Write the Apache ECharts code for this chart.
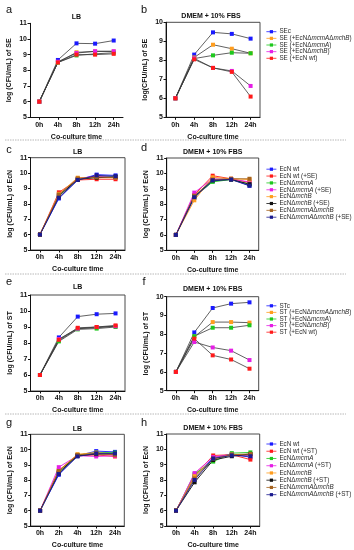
<!DOCTYPE html>
<html><head><meta charset="utf-8">
<script src="https://cdn.jsdelivr.net/npm/echarts@6/dist/echarts.min.js"></script>
<style>html,body{margin:0;padding:0;background:#fff}#c{width:354px;height:550px}</style>
</head><body><div id="c"></div>
<script>
// ---------- categories ----------
const timeCats = ['0h','4h','8h','12h','24h'];
const timeCatsG = ['0h','2h','4h','12h','24h'];

// ---------- legend names ----------
const seNames = ['SEc','SE (+EcNΔmcmAΔmchB)','SE (+EcNΔmcmA)','SE (+EcNΔmchB)','SE (+EcN wt)'];
const stNames = ['STc','ST (+EcNΔmcmAΔmchB)','ST (+EcNΔmcmA)','ST (+EcNΔmchB)','ST (+EcN wt)'];
const ecnSENames = ['EcN wt','EcN wt (+SE)','EcNΔmcmA','EcNΔmcmA (+SE)','EcNΔmchB','EcNΔmchB (+SE)','EcNΔmcmAΔmchB','EcNΔmcmAΔmchB (+SE)'];
const ecnSTNames = ['EcN wt','EcN wt (+ST)','EcNΔmcmA','EcNΔmcmA (+ST)','EcNΔmchB','EcNΔmchB (+ST)','EcNΔmcmAΔmchB','EcNΔmcmAΔmchB (+ST)'];

// ---------- panel a: LB, SE ----------
const aSEc   = [6, 8.66, 9.72, 9.70, 9.90];
const aDblKO = [6, 8.50, 9.15, 9.20, 9.20];
const aMcmA  = [6, 8.50, 8.95, 9.05, 9.12];
const aMchB  = [6, 8.55, 9.10, 9.22, 9.22];
const aWt    = [6, 8.50, 9.00, 9.00, 9.05];

// ---------- panel b: DMEM, SE ----------
const bSEc   = [6, 8.30, 9.47, 9.39, 9.14];
const bDblKO = [6, 8.15, 8.82, 8.61, 8.37];
const bMcmA  = [6, 8.09, 8.26, 8.40, 8.37];
const bMchB  = [6, 8.10, 7.60, 7.44, 6.65];
const bWt    = [6, 8.05, 7.60, 7.39, 6.09];

// ---------- panel c: LB, EcN (+SE) ----------
const cWt      = [6, 8.35, 9.55, 9.90, 9.85];
const cWtSE    = [6, 8.75, 9.55, 9.60, 9.60];
const cMcmA    = [6, 8.55, 9.60, 9.75, 9.75];
const cMcmASE  = [6, 8.60, 9.65, 9.80, 9.70];
const cMchB    = [6, 8.65, 9.70, 9.70, 9.70];
const cMchBSE  = [6, 8.50, 9.60, 9.70, 9.75];
const cDbl     = [6, 8.60, 9.65, 9.75, 9.70];
const cDblSE   = [6, 8.40, 9.55, 9.85, 9.80];

// ---------- panel d: DMEM, EcN (+SE) ----------
const dWt      = [6, 8.40, 9.50, 9.62, 9.20];
const dWtSE    = [6, 8.60, 9.85, 9.65, 9.40];
const dMcmA    = [6, 8.50, 9.45, 9.60, 9.30];
const dMcmASE  = [6, 8.75, 9.65, 9.62, 9.45];
const dMchB    = [6, 8.25, 9.75, 9.65, 9.60];
const dMchBSE  = [6, 8.50, 9.55, 9.60, 9.30];
const dDbl     = [6, 8.55, 9.60, 9.65, 9.65];
const dDblSE   = [6, 8.45, 9.55, 9.60, 9.20];

// ---------- panel e: LB, ST ----------
const eSTc   = [6, 8.35, 9.65, 9.80, 9.85];
const eDblKO = [6, 8.15, 8.90, 8.95, 9.05];
const eMcmA  = [6, 8.10, 8.85, 8.90, 9.00];
const eMchB  = [6, 8.25, 8.90, 9.00, 9.05];
const eWt    = [6, 8.20, 8.95, 9.00, 9.10];

// ---------- panel f: DMEM, ST ----------
const fSTc   = [6, 8.10, 9.40, 9.63, 9.70];
const fDblKO = [6, 7.87, 8.65, 8.65, 8.62];
const fMcmA  = [6, 7.90, 8.35, 8.35, 8.48];
const fMchB  = [6, 7.59, 7.30, 7.13, 6.63];
const fWt    = [6, 7.77, 6.88, 6.66, 6.17];

// ---------- panel g: LB, EcN (+ST) ----------
const gWt      = [6, 8.35, 9.60, 9.90, 9.85];
const gWtST    = [6, 8.65, 9.60, 9.65, 9.55];
const gMcmA    = [6, 8.50, 9.65, 9.80, 9.80];
const gMcmAST  = [6, 8.85, 9.60, 9.55, 9.60];
const gMchB    = [6, 8.60, 9.70, 9.80, 9.70];
const gMchBST  = [6, 8.50, 9.60, 9.70, 9.70];
const gDbl     = [6, 8.60, 9.65, 9.75, 9.65];
const gDblST   = [6, 8.40, 9.55, 9.75, 9.75];

// ---------- panel h: DMEM, EcN (+ST) ----------
const hWt      = [6, 8.20, 9.45, 9.70, 9.48];
const hWtST    = [6, 8.30, 9.60, 9.65, 9.33];
const hMcmA    = [6, 8.40, 9.20, 9.75, 9.80];
const hMcmAST  = [6, 8.45, 9.50, 9.65, 9.60];
const hMchB    = [6, 8.25, 9.35, 9.65, 9.65];
const hMchBST  = [6, 7.85, 9.30, 9.55, 9.70];
const hDbl     = [6, 8.10, 9.40, 9.65, 9.70];
const hDblST   = [6, 8.00, 9.40, 9.60, 9.55];

// ---------- colours ----------
const C = {blue:'#1a1aff', orange:'#ff9d1e', green:'#1ec81e', magenta:'#e51ee5', red:'#ff1a1a', black:'#111111', brown:'#a5631f', navy:'#1b1b8f'};
const pathColors = [C.blue, C.orange, C.green, C.magenta, C.red];
const ecnColors = [C.blue, C.red, C.green, C.magenta, C.orange, C.black, C.brown, C.navy];

const FONT = '"Liberation Sans", Arial, sans-serif';

// grid geometry: [left, top, width, height]
const grids = [
  [30, 23.3, 93, 94],
  [166, 22.3, 94, 95],
  [30.5, 157.7, 94.5, 92.3],
  [166.7, 158, 92, 92.3],
  [30.5, 295, 94.5, 96],
  [166.7, 296.7, 92, 94],
  [30.7, 434.3, 93.6, 94],
  [166.7, 434, 93, 93.5]
];
const yMax = [11, 10, 11, 11, 11, 10, 11, 11];
const yNames = ['log (CFU/mL) of SE','log(CFU/mL) of SE','log (CFU/mL) of EcN','log (CFU/mL) of EcN',
                'log (CFU/mL) of ST','log (CFU/mL) of ST','log (CFU/mL) of EcN','log (CFU/mL) of EcN'];
const xCats = [timeCats, timeCats, timeCats, timeCats, timeCats, timeCats, timeCatsG, timeCats];

const grid = grids.map((g, i) => ({left:g[0], top:g[1], width:g[2], height:g[3], show: i !== 0,
  borderColor:'#4a4a4a', borderWidth:1, containLabel:false}));

const xAxis = grids.map((g, i) => ({
  type:'category', gridIndex:i, data:xCats[i], boundaryGap:true,
  axisLine:{show:true, lineStyle:{color:'#111', width:1}},
  axisTick:{show:true, alignWithLabel:true, length:2.5, lineStyle:{color:'#111'}},
  axisLabel:{fontSize:7, fontWeight:'bold', color:'#111', margin:4, fontFamily:FONT, interval:0},
  name:'Co-culture time', nameLocation:'middle', nameGap:16,
  nameTextStyle:{fontSize:7, fontWeight:'bold', color:'#111', fontFamily:FONT}
}));
const yAxis = grids.map((g, i) => ({
  type:'value', gridIndex:i, min:5, max:yMax[i], interval:1,
  axisLine:{show:true, lineStyle:{color:'#111', width:1}},
  axisTick:{show:true, length:2.5, lineStyle:{color:'#111'}},
  splitLine:{show:false},
  axisLabel:{fontSize:7, fontWeight:'bold', color:'#111', margin:3, fontFamily:FONT},
  name:yNames[i], nameLocation:'middle', nameGap:17, nameRotate:90,
  nameTextStyle:{fontSize:7, fontWeight:'bold', color:'#111', fontFamily:FONT}
}));

function mk(name, data, color, idx, dark) {
  return {type:'line', name, data, xAxisIndex:idx, yAxisIndex:idx,
    symbol:'rect', symbolSize:4, itemStyle:{color},
    lineStyle:{color: dark ? '#3a3a3a' : color, width: dark ? 0.8 : 0.9},
    emphasis:{disabled:true}, animation:false, z: dark ? 2 : 3};
}
const series = [];
[aSEc,aDblKO,aMcmA,aMchB,aWt].forEach((d,k)=>series.push(mk(seNames[k], d, pathColors[k], 0, true)));
[bSEc,bDblKO,bMcmA,bMchB,bWt].forEach((d,k)=>series.push(mk(seNames[k], d, pathColors[k], 1, true)));
[cWt,cWtSE,cMcmA,cMcmASE,cMchB,cMchBSE,cDbl,cDblSE].forEach((d,k)=>series.push(mk(ecnSENames[k], d, ecnColors[k], 2, false)));
[dWt,dWtSE,dMcmA,dMcmASE,dMchB,dMchBSE,dDbl,dDblSE].forEach((d,k)=>series.push(mk(ecnSENames[k], d, ecnColors[k], 3, false)));
[eSTc,eDblKO,eMcmA,eMchB,eWt].forEach((d,k)=>series.push(mk(stNames[k], d, pathColors[k], 4, true)));
[fSTc,fDblKO,fMcmA,fMchB,fWt].forEach((d,k)=>series.push(mk(stNames[k], d, pathColors[k], 5, true)));
[gWt,gWtST,gMcmA,gMcmAST,gMchB,gMchBST,gDbl,gDblST].forEach((d,k)=>series.push(mk(ecnSTNames[k], d, ecnColors[k], 6, false)));
[hWt,hWtST,hMcmA,hMcmAST,hMchB,hMchBST,hDbl,hDblST].forEach((d,k)=>series.push(mk(ecnSTNames[k], d, ecnColors[k], 7, false)));

function legendFor(names, colors, top, gap) {
  return {orient:'vertical', left:261, top, itemWidth:10, itemHeight:4, itemGap:gap,
    selectedMode:false,
    data: names.map((n,k)=>({name:n, itemStyle:{color:colors[k]}, lineStyle:{color:colors[k], width:0.8}})),
    formatter: n => n.replace(/mcmA/g,'{i|mcmA}').replace(/mchB/g,'{i|mchB}'),
    textStyle:{fontSize:6.3, color:'#2a2a2a', fontFamily:FONT, lineHeight:6.6, padding:[0,0,0,-2],
      rich:{i:{fontStyle:'italic', fontSize:6.3, color:'#2a2a2a', fontFamily:FONT, lineHeight:6.6}}}
  };
}
const legend = [
  legendFor(seNames, pathColors, 23.4, 0.05),
  legendFor(ecnSENames, ecnColors, 160.9, 0.26),
  legendFor(stNames, pathColors, 297.5, 0),
  legendFor(ecnSTNames, ecnColors, 435.7, 0.64)
];

function txt(text, x, y, size, weight) {
  return {type:'text', x, y, style:{text, fontSize:size, fontWeight:weight, fontFamily:FONT, fill:'#111',
    align:'center', verticalAlign:'middle'}, silent:true};
}
function sep(y) {
  return {type:'line', shape:{x1:5, y1:y, x2:346, y2:y}, style:{stroke:'#b8b8b8', lineWidth:1, lineDash:[1.5,1]}, silent:true};
}
const graphic = [
  sep(140), sep(274), sep(414),
  txt('a', 9, 10, 11, 'normal'), txt('b', 144, 10, 11, 'normal'),
  txt('c', 9, 150, 11, 'normal'), txt('d', 144, 148, 11, 'normal'),
  txt('e', 9, 282, 11, 'normal'), txt('f', 144, 282, 11, 'normal'),
  txt('g', 9, 423, 11, 'normal'), txt('h', 144, 423, 11, 'normal'),
  txt('LB', 76.5, 17, 7, 'bold'), txt('DMEM + 10% FBS', 211, 16.5, 7, 'bold'),
  txt('LB', 77.7, 152, 7, 'bold'), txt('DMEM + 10% FBS', 212.7, 152, 7, 'bold'),
  txt('LB', 77.7, 287, 7, 'bold'), txt('DMEM + 10% FBS', 212.7, 289, 7, 'bold'),
  txt('LB', 77.5, 429, 7, 'bold'), txt('DMEM + 10% FBS', 213, 428, 7, 'bold')
];

const chart = echarts.init(document.getElementById('c'), null, {renderer:'canvas'});
chart.setOption({animation:false, backgroundColor:'#fff', grid, xAxis, yAxis, series, legend, graphic});
</script></body></html>
